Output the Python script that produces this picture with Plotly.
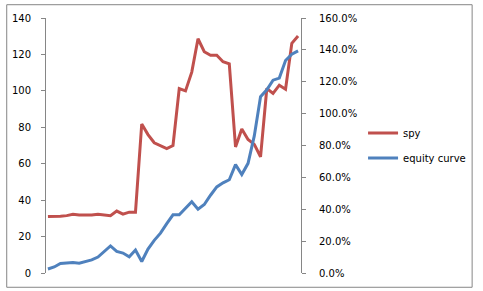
import plotly.graph_objects as go

# ---- data ----
periods = list(range(1, 42))
spy = [31.0, 31.0, 31.2, 31.5, 32.2, 31.8, 31.8, 31.8, 32.3, 31.8, 31.5,
       34.0, 32.3, 33.4, 33.4, 81.8, 76.0, 71.5, 70.0, 68.3, 70.0,
       101.3, 100.0, 110.3, 128.6, 121.5, 119.5, 119.6, 116.0, 114.8,
       69.2, 79.1, 73.3, 70.6, 63.8, 101.3, 98.6, 103.1, 100.9, 126.1, 130.1]
equity_curve = [0.025, 0.038, 0.06, 0.062, 0.066, 0.062, 0.073, 0.082, 0.10, 0.133, 0.17,
                0.135, 0.125, 0.102, 0.144, 0.072, 0.15, 0.205, 0.25, 0.31, 0.365,
                0.365, 0.405, 0.447, 0.40, 0.43, 0.488, 0.54, 0.566, 0.585, 0.68,
                0.618, 0.688, 0.86, 1.106, 1.15, 1.21, 1.223, 1.333, 1.373, 1.394]
left_ticks = [0, 20, 40, 60, 80, 100, 120, 140]
right_ticks = [0.0, 0.2, 0.4, 0.6, 0.8, 1.0, 1.2, 1.4, 1.6]

W, H = 483, 291
L, R, T, B = 42, 305, 15, 274  # plot area in px
pw, ph = R - L, B - T

def px_x(p):
    return (p - L) / pw

def px_y(p):
    return (B - p) / ph

RED = "#C0504D"
BLUE = "#4F81BD"
AX = "#868686"
FONT = dict(family="DejaVu Sans", size=10, color="#000000")

fig = go.Figure()
fig.add_trace(go.Scatter(x=periods, y=spy, name="spy", mode="lines",
                         line=dict(color=RED, width=3), legendgroup="a"))
fig.add_trace(go.Scatter(x=periods, y=equity_curve, name="equity curve", mode="lines",
                         line=dict(color=BLUE, width=3), yaxis="y2", legendgroup="b"))

fig.update_layout(
    width=W, height=H,
    margin=dict(l=L, r=W - R, t=T, b=H - B, pad=0),
    paper_bgcolor="white", plot_bgcolor="white",
    font=FONT,
    xaxis=dict(range=[1 - 0.31, 41 + 0.47], showline=False, showticklabels=False,
               showgrid=False, zeroline=False, ticks=""),
    yaxis=dict(range=[0, 140], tickvals=left_ticks, showgrid=False, zeroline=False,
               showline=True, linecolor=AX, linewidth=1, ticks="outside", ticklen=4,
               tickcolor=AX, tickfont=FONT, ticklabelstandoff=8),
    yaxis2=dict(range=[0, 1.6], tickvals=right_ticks, tickformat=".1%", overlaying="y",
                side="right", showgrid=False, zeroline=False, showline=True, linecolor=AX,
                linewidth=1, ticks="outside", ticklen=4, tickcolor=AX, tickfont=FONT,
                ticklabelstandoff=11),
    legend=dict(x=px_x(369), y=px_y(117), xanchor="left", yanchor="top",
                font=FONT, bgcolor="rgba(0,0,0,0)", tracegroupgap=6,
                traceorder="grouped"),
    showlegend=True,
    shapes=[dict(type="rect", xref="paper", yref="paper",
                 x0=px_x(1.5), x1=px_x(481.5), y0=px_y(288.5), y1=px_y(1.5),
                 line=dict(color=AX, width=1), fillcolor="rgba(0,0,0,0)", layer="below")],
)

fig.write_html("out.html")
